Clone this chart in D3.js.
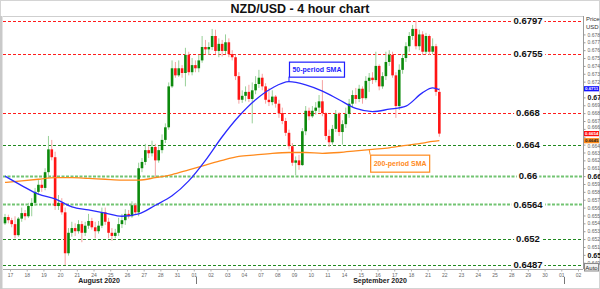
<!DOCTYPE html>
<html>
<head>
<meta charset="utf-8">
<script src="https://cdn.jsdelivr.net/npm/d3@7"></script>
<style>
  html, body { margin: 0; padding: 0; background: #fff; }
  svg { display: block; font-family: "Liberation Sans", Arial, sans-serif; }
</style>
</head>
<body>
<svg id="chart" width="600" height="289"></svg>
<script>
// ---- data (4 hour bars, open = previous close) ----
const firstOpen = 0.6540;
const closes = [
  .6548,.6544,.6539,.6525,.6546,.6553,.6549,.6562,.6566,.6580,
  .6589,.6585,.6605,.6634,.6624,.6562,.6566,.6554,.6502,.6528,
  .6534,.6530,.6539,.6528,.6537,.6543,.6535,.6530,.6537,.6554,
  .6542,.6528,.6524,.6528,.6539,.6544,.6552,.6549,.6563,.6554,
  .6610,.6618,.6633,.6629,.6637,.6620,.6633,.6646,.6662,.6714,
  .6737,.6728,.6737,.6731,.6754,.6732,.6741,.6737,.6747,.6764,
  .6761,.6764,.6778,.6759,.6768,.6759,.6770,.6755,.6751,.6727,
  .6697,.6702,.6707,.6698,.6709,.6717,.6725,.6714,.6697,.6694,
  .6701,.6692,.6680,.6670,.6655,.6638,.6617,.6620,.6614,.6657,
  .6683,.6676,.6683,.6687,.6695,.6680,.6651,.6643,.6660,.6679,
  .6656,.6666,.6679,.6692,.6703,.6698,.6711,.6699,.6721,.6725,
  .6722,.6740,.6714,.6727,.6745,.6754,.6728,.6689,.6735,.6750,
  .6765,.6778,.6787,.6765,.6780,.6758,.6778,.6758,.6765,.6707,
  .6654
];
const highs = [
  .6552,.6551,.6547,.6549,.6548,.6560,.6557,.6566,.6572,.6585,
  .6595,.6595,.6610,.6651,.6646,.6631,.6576,.6572,.6560,.6534,
  .6542,.6540,.6544,.6543,.6542,.6552,.6547,.6542,.6543,.6560,
  .6560,.6547,.6534,.6533,.6547,.6552,.6558,.6557,.6568,.6566,
  .6617,.6623,.6641,.6638,.6645,.6641,.6638,.6653,.6667,.6719,
  .6747,.6745,.6747,.6741,.6763,.6758,.6750,.6747,.6754,.6778,
  .6773,.6770,.6787,.6786,.6775,.6773,.6780,.6775,.6760,.6754,
  .6732,.6709,.6714,.6716,.6719,.6727,.6735,.6730,.6718,.6712,
  .6709,.6703,.6697,.6687,.6674,.6659,.6642,.6625,.6627,.6661,
  .6689,.6687,.6689,.6694,.6703,.6722,.6681,.6659,.6665,.6684,
  .6681,.6671,.6687,.6698,.6709,.6712,.6716,.6714,.6727,.6731,
  .6732,.6758,.6742,.6732,.6758,.6760,.6758,.6732,.6742,.6755,
  .6770,.6783,.6792,.6797,.6786,.6784,.6782,.6780,.6775,.6768,
  .6712
];
const lows = [
  .6538,.6540,.6535,.6521,.6523,.6542,.6544,.6547,.6549,.6562,
  .6576,.6580,.6582,.6598,.6620,.6557,.6557,.6551,.6487,.6499,
  .6523,.6524,.6527,.6516,.6524,.6533,.6532,.6521,.6527,.6534,
  .6538,.6521,.6518,.6521,.6524,.6534,.6538,.6546,.6547,.6551,
  .6549,.6605,.6614,.6623,.6625,.6598,.6617,.6629,.6642,.6659,
  .6712,.6725,.6726,.6725,.6714,.6728,.6728,.6732,.6732,.6744,
  .6755,.6754,.6760,.6755,.6751,.6752,.6755,.6751,.6747,.6722,
  .6692,.6693,.6695,.6694,.6667,.6704,.6712,.6709,.6692,.6689,
  .6690,.6687,.6674,.6666,.6651,.6634,.6613,.6601,.6608,.6613,
  .6652,.6671,.6674,.6678,.6681,.6676,.6646,.6637,.6640,.6656,
  .6651,.6640,.6661,.6674,.6687,.6692,.6694,.6692,.6697,.6707,
  .6717,.6719,.6709,.6711,.6722,.6740,.6725,.6674,.6684,.6730,
  .6745,.6758,.6773,.6761,.6760,.6754,.6755,.6754,.6755,.6702,
  .6650
];

// moving averages, sampled at these bar numbers
const smaIdx = [0,5,10,15,20,25,30,35,40,45,50,55,60,65,70,75,80,85,90,95,100,105,110,115,120,125,128,130];
const sma50 = [.6600,.6588,.6577,.6571,.6561,.6557,.6553,.6549,.6552,.6563,.6575,.6594,.6620,.6650,
               .6676,.6697,.6712,.6720,.6716,.6708,.6697,.6686,.6682,.6685,.6689,.6706,.6712,.6710];
const sma200 = [.6592,.6594,.6596,.6598,.6598,.6597,.6596,.6595,.6595,.6598,.6602,.6608,.6614,.6620,
                .6625,.6627,.6629,.6630,.6630,.6629,.6630,.6632,.6634,.6636,.6639,.6642,.6644,.6645];

const dayLabels = ["17","18","19","20","21","24","25","26","27","28","31","01","02","03","04",
                   "07","08","09","10","11","14","15","16","17","18","21","22","23","24","25",
                   "28","29","30","01","02"];
const monthNames = ["August 2020", "September 2020"];
const monthAt = [5.33, 22.15];
const monthStarts = [11, 33];

const levels = [0.6797, 0.6755, 0.668, 0.664, 0.66, 0.6564, 0.652, 0.6487];
const levelKinds = ["red", "red", "red", "dark", "light", "light", "dark", "dark"];

const lastNames = ["sma50", "price", "sma200"];
const lastValues = [0.6711, 0.6654, 0.6645];

const barsPerDay = 5, startDay = -0.4;

// ---- layout ----
const W = 600, H = 289;
const plot = {left: 3, right: 583, top: 16, bottom: 269};
const svg = d3.select("#chart");

const xDay = d3.scaleLinear().domain([-0.42, 34.3]).range([plot.left, plot.right]);
const y = d3.scaleLinear().domain([0.6482, 0.68034]).range([plot.bottom, plot.top]);
const barX = i => xDay(startDay + (i + 0.5) / barsPerDay);
const barStep = xDay(1 / barsPerDay) - xDay(0);

const bars = closes.map((c, i) => ({
  i, open: i ? closes[i - 1] : firstOpen, close: c, high: highs[i], low: lows[i]
}));

// frame
svg.append("rect").attr("x", 0.5).attr("y", 0.5).attr("width", W - 1).attr("height", H - 1)
  .attr("fill", "#fff").attr("stroke", "#d4d4d4");
svg.append("rect").attr("x", 0).attr("y", plot.top).attr("width", 2.5).attr("height", H - plot.top)
  .attr("fill", "#c9c9c9");
svg.append("line").attr("x1", plot.left).attr("x2", plot.right)
  .attr("y1", plot.top + 0.5).attr("y2", plot.top + 0.5).attr("stroke", "#cfcfcf");

svg.append("defs").append("clipPath").attr("id", "clip")
  .append("rect").attr("x", plot.left).attr("y", plot.top)
  .attr("width", plot.right - plot.left).attr("height", plot.bottom - plot.top);

const g = svg.append("g").attr("clip-path", "url(#clip)");

// level lines
const levelStyle = {
  red:   {stroke: "#ff1c1c", width: 1,   dash: "3,2"},
  dark:  {stroke: "#1f8a1f", width: 1,   dash: "3,2"},
  light: {stroke: "#72c472", width: 1.8, dash: "3,1.5"}
};
g.selectAll("line.level").data(levels).join("line")
  .attr("class", "level")
  .attr("x1", plot.left).attr("x2", plot.right)
  .attr("y1", d => Math.round(y(d)) + 0.5).attr("y2", d => Math.round(y(d)) + 0.5)
  .attr("stroke", (d, i) => levelStyle[levelKinds[i]].stroke)
  .attr("stroke-width", (d, i) => levelStyle[levelKinds[i]].width)
  .attr("stroke-dasharray", (d, i) => levelStyle[levelKinds[i]].dash);

// candles
const up = d => d.close >= d.open;
g.selectAll("line.wick").data(bars).join("line")
  .attr("class", "wick")
  .attr("x1", d => barX(d.i)).attr("x2", d => barX(d.i))
  .attr("y1", d => y(d.high)).attr("y2", d => y(d.low))
  .attr("stroke", d => up(d) ? "#98d098" : "#f5a3a3")
  .attr("stroke-width", 1);

const bodyW = barStep * 0.78;
g.selectAll("rect.body").data(bars).join("rect")
  .attr("class", "body")
  .attr("x", d => barX(d.i) - bodyW / 2)
  .attr("width", bodyW)
  .attr("y", d => y(Math.max(d.open, d.close)))
  .attr("height", d => Math.max(1, Math.abs(y(d.open) - y(d.close))))
  .attr("fill", d => up(d) ? "#0c8a0c" : "#ff1414");

// moving averages
const smaLine = vals => d3.line()
  .x((d, k) => barX(smaIdx[k]))
  .y(d => y(d))
  .curve(d3.curveMonotoneX)(vals);

g.append("path").attr("d", smaLine(sma200)).attr("fill", "none")
  .attr("stroke", "#ff8a1c").attr("stroke-width", 1.3);
g.append("path").attr("d", smaLine(sma50)).attr("fill", "none")
  .attr("stroke", "#2a2aff").attr("stroke-width", 1.3);

// level labels
const levelLabels = svg.append("g");
levels.forEach((v, i) => {
  const cx = plot.right - 55, cy = y(v);
  const t = levelLabels.append("text")
    .attr("x", cx).attr("y", cy + 3.3)
    .attr("text-anchor", "middle")
    .attr("font-size", 9.5).attr("font-weight", "bold").attr("fill", "#111")
    .text(String(v));
  const bb = t.node().getBBox();
  levelLabels.insert("rect", "text")
    .attr("x", bb.x - 2).attr("y", cy - 3).attr("width", bb.width + 4).attr("height", 6)
    .attr("fill", "#fff");
});

// annotation boxes
const smaAt50 = d3.scaleLinear(smaIdx, sma50);
const smaAt200 = d3.scaleLinear(smaIdx, sma200);
const annoText = ["50-period SMA", "200-period SMA"];
const annoColor = ["#1e1eff", "#ff8a1c"];

{
  const ax = barX(85), ay = y(smaAt50(85));
  const bw = 55, bh = 15, bx = ax, by = ay - 5 - bh;
  svg.append("line").attr("x1", ax).attr("x2", ax).attr("y1", ay).attr("y2", by + bh)
    .attr("stroke", annoColor[0]);
  svg.append("rect").attr("x", bx + 0.5).attr("y", by + 0.5).attr("width", bw).attr("height", bh)
    .attr("fill", "#fff").attr("stroke", annoColor[0]).attr("stroke-width", 1.2);
  svg.append("text").attr("x", bx + bw / 2 + 0.5).attr("y", by + bh / 2 + 3)
    .attr("text-anchor", "middle").attr("font-size", 7).attr("font-weight", "bold")
    .attr("fill", annoColor[0]).text(annoText[0]);
}
{
  const ax = barX(109), ay = y(smaAt200(109));
  const bw = 59, bh = 17, bx = ax + 1, by = ay + 5;
  svg.append("line").attr("x1", ax).attr("x2", bx).attr("y1", ay).attr("y2", by)
    .attr("stroke", annoColor[1]);
  svg.append("rect").attr("x", bx + 0.5).attr("y", by + 0.5).attr("width", bw).attr("height", bh)
    .attr("fill", "#fff").attr("stroke", annoColor[1]).attr("stroke-width", 1.2);
  svg.append("text").attr("x", bx + bw / 2 + 0.5).attr("y", by + bh / 2 + 3)
    .attr("text-anchor", "middle").attr("font-size", 7).attr("font-weight", "bold")
    .attr("fill", annoColor[1]).text(annoText[1]);
}

// price axis (labels that sit under a last-value tag are covered, as in the source)
const tickVals = d3.range(649, 679).map(v => v / 1000);
const isMajor = v => Math.abs(v * 100 - Math.round(v * 100)) < 1e-6;
const covered = v => lastValues.some(t => Math.abs(y(t) - y(v)) < 3.5);
const nudge = v => {
  const near = lastValues.find(t => Math.abs(y(t) - y(v)) < 5.5);
  return near === undefined ? 0 : (y(v) > y(near) ? 1.6 : -1.6);
};
const yAxis = svg.append("g").attr("transform", `translate(${plot.right + 0.5},0)`)
  .call(d3.axisRight(y).tickValues(tickVals).tickSize(2).tickPadding(2)
    .tickFormat(v => covered(v) ? "" : (isMajor(v) ? d3.format(".2f")(v) : d3.format(".3f")(v))));
yAxis.select(".domain").attr("stroke", "#9a9a9a").attr("d", `M0,${plot.top}V${plot.bottom}`);
yAxis.selectAll(".tick line").attr("stroke", "#9a9a9a");
yAxis.selectAll(".tick text")
  .attr("font-family", "Liberation Sans, Arial, sans-serif")
  .attr("font-size", v => isMajor(v) ? 7 : 5)
  .attr("font-weight", v => isMajor(v) ? "bold" : "normal")
  .attr("fill", v => isMajor(v) ? "#111" : "#666")
  .attr("y", v => nudge(v));

svg.append("text").attr("x", plot.right + 3).attr("y", 21).attr("font-size", 6).attr("fill", "#333").text("Price");
svg.append("text").attr("x", plot.right + 3).attr("y", 28.5).attr("font-size", 6).attr("fill", "#333").text("USD");

// last value tags
const tagFill = {sma50: "#1515ff", price: "#ff1010", sma200: "#ff8c1a"};
const tagText = {sma50: "#fff", price: "#fff", sma200: "#222"};
lastValues.forEach((v, i) => {
  const cy = y(v);
  svg.append("rect").attr("x", plot.right + 1).attr("y", cy - 2.6).attr("width", 15).attr("height", 5.2)
    .attr("fill", tagFill[lastNames[i]]);
  svg.append("text").attr("x", plot.right + 2).attr("y", cy + 1.5)
    .attr("font-size", 4.4).attr("font-weight", "bold").attr("fill", tagText[lastNames[i]])
    .text(d3.format(".4f")(v));
});

// Auto button
svg.append("rect").attr("x", plot.right + 1.5).attr("y", 263.5).attr("width", 14).attr("height", 7.5)
  .attr("fill", "#f2f2f2").attr("stroke", "#8a8a8a");
svg.append("text").attr("x", plot.right + 8.5).attr("y", 269.5).attr("text-anchor", "middle")
  .attr("font-size", 6).attr("fill", "#222").text("Auto");

// time axis
const xAxis = svg.append("g").attr("transform", `translate(0,${plot.bottom + 0.5})`)
  .call(d3.axisBottom(xDay).tickValues(d3.range(dayLabels.length)).tickSize(2).tickPadding(2)
    .tickFormat(i => dayLabels[i]));
xAxis.select(".domain").attr("stroke", "#a8a8a8").attr("d", `M${plot.left},0H${plot.right}`);
xAxis.selectAll(".tick line").attr("stroke", "#b0b0b0");
xAxis.selectAll(".tick text").attr("font-family", "Liberation Sans, Arial, sans-serif")
  .attr("font-size", 5).attr("fill", "#666");

svg.selectAll("text.month").data(monthNames).join("text")
  .attr("class", "month")
  .attr("x", (d, i) => xDay(monthAt[i])).attr("y", 282.5)
  .attr("text-anchor", "middle").attr("font-size", 7).attr("font-weight", "bold").attr("fill", "#222")
  .text(d => d);
svg.selectAll("line.msep").data(monthStarts).join("line")
  .attr("class", "msep")
  .attr("x1", d => Math.round(xDay(d + 0.15)) + 0.5).attr("x2", d => Math.round(xDay(d + 0.15)) + 0.5)
  .attr("y1", 277).attr("y2", 284).attr("stroke", "#777");

// title
svg.append("text").attr("x", W / 2).attr("y", 13)
  .attr("text-anchor", "middle").attr("font-size", 12.5).attr("font-weight", "bold").attr("fill", "#111")
  .text("NZD/USD - 4 hour chart");
</script>
</body>
</html>
